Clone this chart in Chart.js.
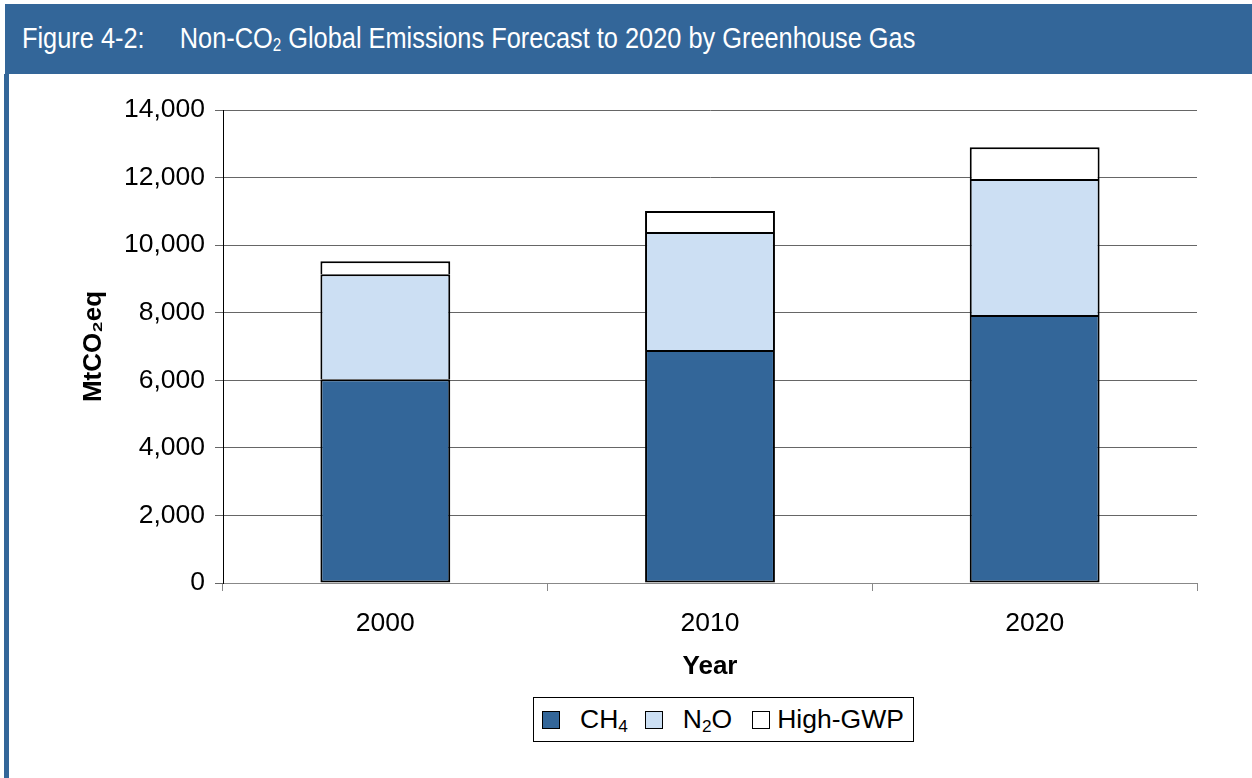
<!DOCTYPE html>
<html lang="en">
<head>
    <meta charset="UTF-8">
    <title>Figure 4-2</title>
    <script src="https://cdn.jsdelivr.net/npm/chart.js"></script>
    <style>
        body { margin: 0; background: #fff; width: 1252px; height: 778px; position: relative; overflow: hidden; font-family: "Liberation Sans", Arial, sans-serif; }
        #header { position: absolute; left: 5px; top: 4px; width: 1247px; height: 70px; background: #336699; }
        #header span { position: absolute; left: 17px; top: 17px; color: #fff; font-family: "Liberation Sans Narrow", "Arial Narrow", sans-serif; font-size: 30px; white-space: nowrap; transform: scaleX(0.845); transform-origin: left center; }
        #header sub { font-size: 0.6em; vertical-align: -0.15em; }
        #strip { position: absolute; left: 4px; top: 74px; width: 5px; height: 704px; background: #336699; }
        #wrap { position: absolute; left: 10px; top: 74px; width: 1242px; height: 620px; }
        #legend { position: absolute; left: 533px; top: 697px; width: 379px; height: 43px; border: 1px solid #000; display: flex; align-items: center; font-size: 26.5px; color: #000; white-space: nowrap; }
        #legend .item { display: flex; align-items: center; flex-shrink: 0; }
        #legend .box { width: 16px; height: 16px; border: 1px solid #000; margin-right: 20px; flex-shrink: 0; }
        #legend sub { font-size: 0.65em; vertical-align: -0.25em; line-height: 0; }
    </style>
</head>
<body>
    <div id="header"><span>Figure 4-2:&nbsp;&nbsp;&nbsp;&nbsp; Non-CO<sub>2</sub> Global Emissions Forecast to 2020 by Greenhouse Gas</span></div>
    <div id="strip"></div>
    <div id="wrap"><canvas id="myChart"></canvas></div>
    <div id="legend"></div>
    <script>
        const years = ['2000', '2010', '2020'];
        const ch4 = [6030, 6900, 7930];
        const n2o = [3110, 3490, 4030];
        const highGwp = [385, 620, 940];
        const seriesNames = ['CH4', 'N2O', 'High-GWP'];
        const seriesColors = ['#336699', '#CCDFF3', '#FFFFFF'];
        const yTicks = [0, 2000, 4000, 6000, 8000, 10000, 12000, 14000];

        function subHtml(name) {
            return name.replace(/([A-Za-z])(\d)/g, '$1<sub>$2</sub>');
        }

        const seriesData = [ch4, n2o, highGwp];
        const datasets = seriesData.map((d, i) => ({
            label: seriesNames[i],
            data: d,
            backgroundColor: seriesColors[i],
            borderColor: '#000',
            borderWidth: 2,
            borderSkipped: i === 0 ? false : 'bottom',
            barPercentage: 0.4,
            categoryPercentage: 1
        }));

        const ctx = document.getElementById('myChart').getContext('2d');
        const chart = new Chart(ctx, {
            type: 'bar',
            data: { labels: years, datasets: datasets },
            options: {
                responsive: true,
                maintainAspectRatio: false,
                animation: false,
                layout: { padding: { left: 64, right: 55, top: 36, bottom: 8 } },
                plugins: { legend: { display: false }, tooltip: { enabled: false } },
                scales: {
                    x: {
                        stacked: true,
                        afterFit: s => { s.height = 103; },
                        grid: { offset: true, drawOnChartArea: false, drawTicks: true, tickLength: 8, color: '#888' },
                        border: { color: '#888', width: 1 },
                        ticks: { color: '#000', padding: 17, font: { family: 'Liberation Sans', size: 26.5 } },
                        title: { display: true, text: 'Year', color: '#000', font: { family: 'Liberation Sans', size: 26, weight: 'bold' } }
                    },
                    y: {
                        stacked: true,
                        min: 0,
                        max: 14000,
                        afterFit: s => { s.width = 149; },
                        afterBuildTicks: s => { s.ticks = yTicks.map(v => ({ value: v })); },
                        grid: { color: '#666', tickLength: 8 },
                        border: { color: '#000', width: 1 },
                        ticks: { color: '#000', padding: 10, font: { family: 'Liberation Sans', size: 26.5 },
                            callback: v => v.toLocaleString('en-US') },
                        title: { display: true, text: 'MtCO\u2082eq', color: '#000', font: { family: 'Liberation Sans', size: 26, weight: 'bold' } }
                    }
                }
            }
        });

        const legend = document.getElementById('legend');
        const itemGaps = [8, 17, 20];
        chart.data.datasets.forEach((ds, i) => {
            const item = document.createElement('div');
            item.className = 'item';
            item.style.marginLeft = itemGaps[i] + 'px';
            const box = document.createElement('div');
            box.className = 'box';
            box.style.background = ds.backgroundColor;
            if (i === 2) box.style.marginRight = '7px';
            const txt = document.createElement('span');
            txt.innerHTML = subHtml(ds.label);
            item.appendChild(box);
            item.appendChild(txt);
            legend.appendChild(item);
        });
    </script>
</body>
</html>
